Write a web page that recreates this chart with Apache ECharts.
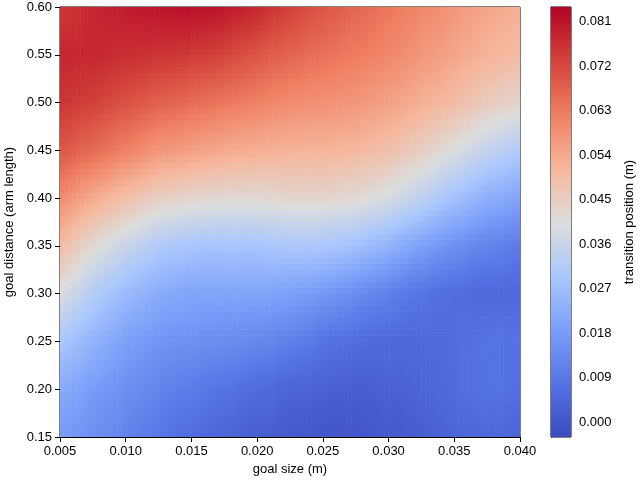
<!DOCTYPE html><html><head><meta charset="utf-8">
<script src="https://cdn.jsdelivr.net/npm/echarts@6/dist/echarts.min.js"></script>
<style>html,body{margin:0;padding:0;background:#fff}#c{width:640px;height:482px}</style></head><body><div id="c"></div>
<script>
const xs=[0.005,0.0075,0.010,0.0125,0.015,0.0175,0.020,0.0225,0.025,0.0275,0.030,0.0325,0.035,0.0375,0.040];
const ys=[0.15,0.20,0.25,0.30,0.35,0.40,0.45,0.50,0.55,0.60];
const vals=[
[0.018,0.015,0.012,0.009,0.006,0.004,0.002,0.001,0.000,0.000,0.001,0.002,0.004,0.005,0.004],
[0.022,0.018,0.015,0.012,0.010,0.008,0.006,0.004,0.003,0.002,0.003,0.004,0.006,0.008,0.007],
[0.030,0.024,0.019,0.016,0.015,0.014,0.013,0.011,0.008,0.006,0.005,0.005,0.006,0.008,0.008],
[0.040,0.032,0.026,0.022,0.020,0.020,0.020,0.019,0.017,0.014,0.011,0.008,0.006,0.005,0.005],
[0.050,0.042,0.036,0.031,0.029,0.029,0.029,0.030,0.030,0.028,0.024,0.019,0.015,0.012,0.010],
[0.060,0.054,0.049,0.045,0.043,0.042,0.042,0.043,0.043,0.042,0.039,0.034,0.028,0.023,0.020],
[0.070,0.066,0.062,0.058,0.056,0.054,0.053,0.052,0.052,0.051,0.049,0.045,0.040,0.035,0.031],
[0.076,0.074,0.071,0.068,0.066,0.064,0.062,0.060,0.059,0.058,0.056,0.053,0.050,0.046,0.043],
[0.078,0.078,0.077,0.076,0.075,0.073,0.070,0.067,0.065,0.063,0.061,0.058,0.055,0.052,0.050],
[0.075,0.078,0.080,0.081,0.082,0.081,0.078,0.074,0.070,0.067,0.064,0.061,0.058,0.055,0.053]];
const cbTicks=[0.000,0.009,0.018,0.027,0.036,0.045,0.054,0.063,0.072,0.081];
const VMIN=-0.003,VMAX=0.084;
const stops=[[0,[59,76,192]],[0.125,[85,114,227]],[0.25,[124,159,249]],[0.375,[170,199,253]],[0.5,[221,221,221]],[0.625,[246,183,156]],[0.75,[240,128,99]],[0.875,[212,68,58]],[1,[180,4,38]]];
function col(v){let t=(v-VMIN)/(VMAX-VMIN);t=Math.max(0,Math.min(1,t));
 for(let i=1;i<stops.length;i++){if(t<=stops[i][0]){const a=stops[i-1],b=stops[i];const f=(t-a[0])/(b[0]-a[0]);
 const c=a[1].map((x,k)=>Math.round(x+(b[1][k]-x)*f));return 'rgb('+c.join(',')+')';}}return 'rgb(180,4,38)';}
const cells=[];for(let j=0;j<ys.length-1;j++)for(let i=0;i<xs.length-1;i++)cells.push([i,j]);
const N=8;
function renderCell(params,api){const i=api.value(0),j=api.value(1);const ch=[];
 const v00=vals[j][i],v10=vals[j][i+1],v01=vals[j+1][i],v11=vals[j+1][i+1];
 for(let a=0;a<N;a++)for(let b=0;b<N;b++){
  const u=(a+0.5)/N,w=(b+0.5)/N;const v=v00*(1-u)*(1-w)+v10*u*(1-w)+v01*(1-u)*w+v11*u*w;
  const x0=xs[i]+(xs[i+1]-xs[i])*a/N,x1=xs[i]+(xs[i+1]-xs[i])*(a+1)/N;
  const y0=ys[j]+(ys[j+1]-ys[j])*b/N,y1=ys[j]+(ys[j+1]-ys[j])*(b+1)/N;
  const p0=api.coord([x0,y1]),p1=api.coord([x1,y0]);
  ch.push({type:'rect',shape:{x:p0[0]-0.3,y:p0[1]-0.3,width:p1[0]-p0[0]+0.6,height:p1[1]-p0[1]+0.6},style:{fill:col(v)}});}
 return {type:'group',children:ch};}
const cb=[];for(let k=0;k<200;k++)cb.push(VMIN+(VMAX-VMIN)*k/200);
const dv=(VMAX-VMIN)/200;
const lab={color:'#000',fontSize:13,fontFamily:'Liberation Sans'};
const ax={axisLine:{show:true,lineStyle:{color:'#000'}},axisTick:{show:true,inside:false,lineStyle:{color:'#000'}},splitLine:{show:false},axisLabel:lab,nameTextStyle:lab};
const chart=echarts.init(document.getElementById('c'),null,{renderer:'canvas'});
chart.setOption({animation:false,
grid:[{left:60,right:120,top:7,bottom:45,show:true,borderColor:'#000',borderWidth:1,containLabel:false,outerBoundsMode:'none'},
 {left:551,width:20,top:7,bottom:45,show:true,borderColor:'#000',borderWidth:1,containLabel:false,outerBoundsMode:'none'}],
xAxis:[Object.assign({},ax,{gridIndex:0,type:'value',min:0.005,max:0.040,interval:0.005,name:'goal size (m)',nameLocation:'middle',nameGap:24,axisLabel:Object.assign({},lab,{formatter:v=>v.toFixed(3)})}),
 {gridIndex:1,type:'value',min:0,max:1,show:false}],
yAxis:[Object.assign({},ax,{gridIndex:0,type:'value',min:0.15,max:0.60,interval:0.05,name:'goal distance (arm length)',nameLocation:'middle',nameGap:42,axisLabel:Object.assign({},lab,{formatter:v=>v.toFixed(2)})}),
 Object.assign({},ax,{gridIndex:1,type:'value',position:'right',min:VMIN,max:VMAX,name:'transition position (m)',nameLocation:'middle',nameGap:52,nameRotate:90,
  axisTick:{show:true,lineStyle:{color:'#000'},customValues:cbTicks},axisLabel:Object.assign({},lab,{customValues:cbTicks,formatter:v=>v.toFixed(3)})})],
series:[{type:'custom',xAxisIndex:0,yAxisIndex:0,data:cells,renderItem:renderCell,clip:true,z:1},
 {type:'custom',xAxisIndex:1,yAxisIndex:1,data:cb,renderItem:(p,api)=>{const v=api.value(0);const a=api.coord([0,v+dv]),b=api.coord([1,v]);
  return {type:'rect',shape:{x:a[0],y:a[1]-0.5,width:b[0]-a[0],height:b[1]-a[1]+1},style:{fill:col(v+dv/2)}};},clip:true}]});
</script></body></html>
